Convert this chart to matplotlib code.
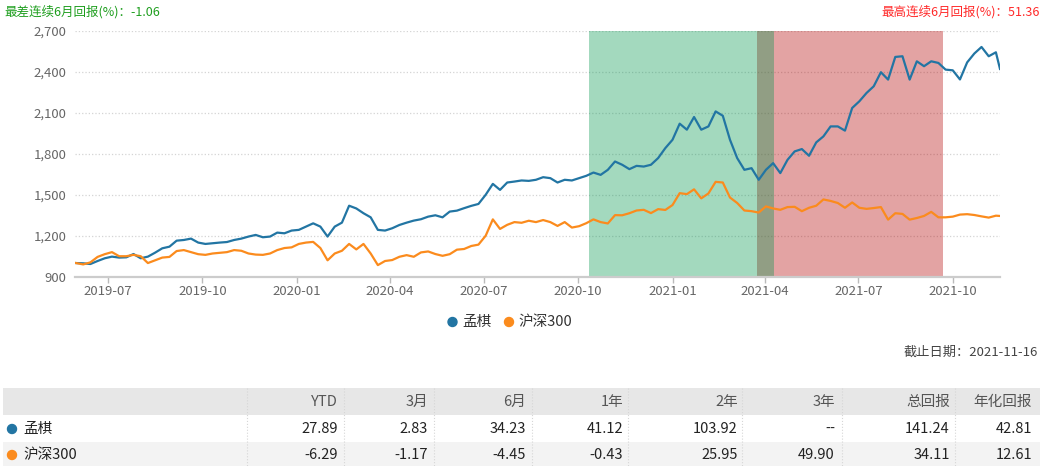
import pandas as pd
import matplotlib
matplotlib.use("Agg")
import matplotlib.pyplot as plt
import matplotlib.dates as mdates
from matplotlib.ticker import FuncFormatter
from matplotlib.patches import Rectangle, Circle

plt.rcParams['font.family'] = ['Noto Sans CJK SC', 'DejaVu Sans']

# weekly samples, last point is the cut-off date
dates = list(pd.date_range("2019-05-31", periods=129, freq="7D")) + [pd.Timestamp("2021-11-16")]

fund = [
    1000, 998, 993, 1015, 1035, 1047, 1040, 1042, 1066, 1035,
    1047, 1076, 1108, 1120, 1164, 1169, 1179, 1150, 1140, 1145,
    1150, 1154, 1169, 1179, 1194, 1206, 1189, 1194, 1223, 1218,
    1238, 1243, 1267, 1291, 1267, 1194, 1267, 1296, 1420, 1400,
    1365, 1335, 1243, 1238, 1255, 1279, 1296, 1311, 1321, 1340,
    1350, 1335, 1377, 1384, 1402, 1419, 1433, 1500, 1580, 1536,
    1590, 1597, 1605, 1602, 1610, 1629, 1622, 1590, 1610, 1605,
    1622, 1639, 1663, 1646, 1683, 1744, 1720, 1688, 1712, 1707,
    1720, 1769, 1842, 1903, 2021, 1977, 2070, 1977, 2001, 2111,
    2079, 1903, 1769, 1683, 1695, 1610, 1683, 1732, 1659, 1756,
    1818, 1835, 1786, 1884, 1928, 2001, 2001, 1970, 2136, 2185,
    2246, 2295, 2398, 2344, 2510, 2515, 2344, 2478, 2442, 2478,
    2466, 2417, 2412, 2345, 2470, 2535, 2583, 2515, 2544, 2422,
]

hs300 = [
    1000, 990, 1005, 1045, 1065, 1080, 1050, 1050, 1060, 1050,
    1000, 1020, 1040, 1045, 1088, 1095, 1080, 1065, 1060, 1070,
    1075, 1080, 1095, 1090, 1070, 1062, 1060, 1070, 1095, 1110,
    1115, 1140, 1150, 1155, 1110, 1020, 1070, 1090, 1140, 1100,
    1140, 1070, 985, 1015, 1022, 1046, 1058, 1046, 1078, 1085,
    1066, 1053, 1065, 1098, 1103, 1125, 1135, 1200, 1320, 1250,
    1280, 1300, 1295, 1310, 1300, 1315, 1300, 1272, 1300, 1260,
    1270, 1292, 1320, 1300, 1290, 1351, 1350, 1365, 1385, 1390,
    1366, 1395, 1389, 1425, 1512, 1505, 1540, 1474, 1510, 1595,
    1590, 1480, 1440, 1385, 1380, 1370, 1415, 1400, 1390, 1410,
    1412, 1380, 1405, 1420, 1466, 1455, 1440, 1405, 1444, 1405,
    1397, 1403, 1410, 1318, 1365, 1360, 1318, 1330, 1345, 1375,
    1335, 1335, 1340, 1355, 1358, 1352, 1342, 1333, 1347, 1345,
]

series_names = ["孟棋", "沪深300"]
worst_start, worst_end = "2020-10-12", "2021-04-10"
best_start, best_end = "2021-03-24", "2021-09-21"
worst_6m = "-1.06"
best_6m = "51.36"
end_date = "2021-11-16"

table_cols = ["YTD", "3月", "6月", "1年", "2年", "3年", "总回报", "年化回报"]
fund_ret = ["27.89", "2.83", "34.23", "41.12", "103.92", "--", "141.24", "42.81"]
hs300_ret = ["-6.29", "-1.17", "-4.45", "-0.43", "25.95", "49.90", "34.11", "12.61"]

blue = "#2275a3"
orange = "#fb8b1d"

W, H = 1043, 466
fig = plt.figure(figsize=(W / 100, H / 100), dpi=100)

#------------------------------------
# line chart
#------------------------------------
ax = fig.add_axes([75 / W, 1 - 276.7 / H, 925 / W, 245.7 / H])

ax.axvspan(pd.Timestamp(best_start), pd.Timestamp(best_end),
           color=(178 / 255, 0, 0), alpha=0.36, lw=0)
ax.axvspan(pd.Timestamp(worst_start), pd.Timestamp(worst_end),
           color=(0, 150 / 255, 77 / 255), alpha=0.36, lw=0)

ax.plot(dates, fund, color=blue, lw=1.6, zorder=3)
ax.plot(dates, hs300, color=orange, lw=1.6, zorder=3)

ax.set_ylim(900, 2700)
ax.set_yticks(range(900, 2701, 300))
ax.yaxis.set_major_formatter(FuncFormatter(lambda v, p: f"{int(v):,}"))
ax.set_xlim(pd.Timestamp("2019-05-30"), pd.Timestamp(end_date))
ax.xaxis.set_major_locator(mdates.MonthLocator(bymonth=[1, 4, 7, 10]))
ax.xaxis.set_major_formatter(mdates.DateFormatter("%Y-%m"))

ax.grid(axis="y", ls=":", color="#d4d4d4", lw=0.9)
ax.set_axisbelow(True)
for s in ["top", "right", "left"]:
    ax.spines[s].set_visible(False)
ax.spines["bottom"].set_color("#cccccc")
ax.spines["bottom"].set_linewidth(1.6)

ax.tick_params(axis="y", length=0, labelcolor="#666666", labelsize=9.5, pad=6)
ax.tick_params(axis="x", length=4, width=1, color="#bbbbbb",
               labelcolor="#666666", labelsize=9.5, pad=2)

#------------------------------------
# texts, legend and table in pixel coords
#------------------------------------
ov = fig.add_axes([0, 0, 1, 1])
ov.set_xlim(0, W)
ov.set_ylim(H, 0)
ov.axis("off")
ov.patch.set_alpha(0)

ov.text(4, 12, f"最差连续6月回报(%)：{worst_6m}", color="#1e9e1e",
        fontsize=9, ha="left", va="center")
ov.text(1040, 12, f"最高连续6月回报(%)：{best_6m}", color="#ff2a2a",
        fontsize=9, ha="right", va="center")

# legend
ov.add_patch(Circle((452.5, 322), 4.5, color=blue))
ov.text(462, 322, series_names[0], fontsize=10.5, color="#333333", va="center")
ov.add_patch(Circle((509, 322), 4.5, color=orange))
ov.text(518, 322, series_names[1], fontsize=10.5, color="#333333", va="center")

ov.text(1038, 352, f"截止日期：{end_date}", fontsize=9.5, color="#444444",
        ha="right", va="center")

# table
ov.add_patch(Rectangle((3, 388), 1037, 27, color="#e7e7e7", lw=0))
ov.add_patch(Rectangle((3, 442), 1037, 24, color="#f3f3f3", lw=0))

seps = [247, 344, 434, 532, 628, 742, 842, 955]
for sx in seps:
    ov.plot([sx, sx], [388, 466], color="#d6d6d6", lw=0.8, ls=":")

text_right = [338, 428, 526, 623, 738, 835, 950, 1032]
for i, c in enumerate(table_cols):
    ov.text(text_right[i], 402, c, fontsize=10.5, color="#555555", ha="right", va="center")
    ov.text(text_right[i], 429, fund_ret[i], fontsize=10.5, color="#222222", ha="right", va="center")
    ov.text(text_right[i], 455, hs300_ret[i], fontsize=10.5, color="#222222", ha="right", va="center")

ov.add_patch(Circle((12, 429), 4.5, color=blue))
ov.text(23, 429, series_names[0], fontsize=10.5, color="#222222", va="center")
ov.add_patch(Circle((12, 455), 4.5, color=orange))
ov.text(23, 455, series_names[1], fontsize=10.5, color="#222222", va="center")

fig.savefig("out.png", dpi=100)
